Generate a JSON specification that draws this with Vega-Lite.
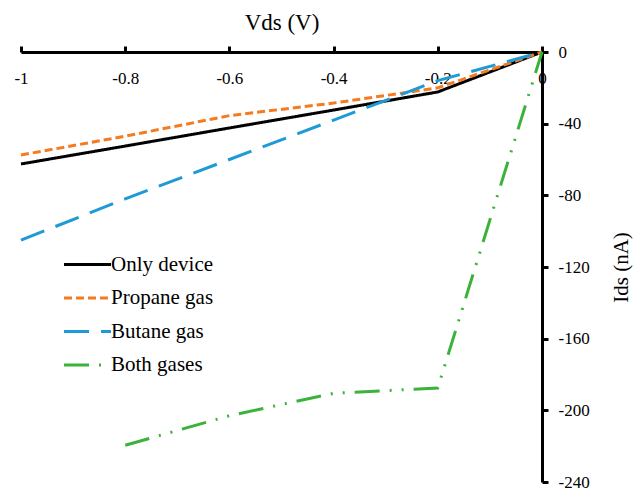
{
  "$schema": "https://vega.github.io/schema/vega-lite/v6.json",
  "autosize": {"type": "none"},
  "padding": {"left": 21, "top": 52, "right": 96, "bottom": 10},
  "width": 521,
  "height": 430,
  "background": "white",
  "config": {
    "font": "Liberation Serif",
    "view": {"stroke": null}
  },
  "data": {
    "values": [
      {"series": "Only device", "vds": -1, "ids": -62.5},
      {"series": "Only device", "vds": -0.8, "ids": -52.5},
      {"series": "Only device", "vds": -0.6, "ids": -42.4},
      {"series": "Only device", "vds": -0.4, "ids": -32.4},
      {"series": "Only device", "vds": -0.2, "ids": -22.3},
      {"series": "Only device", "vds": 0, "ids": 0},
      {"series": "Propane gas", "vds": -1, "ids": -57.5},
      {"series": "Propane gas", "vds": -0.8, "ids": -47},
      {"series": "Propane gas", "vds": -0.6, "ids": -35.5},
      {"series": "Propane gas", "vds": -0.4, "ids": -28.5},
      {"series": "Propane gas", "vds": -0.2, "ids": -20},
      {"series": "Propane gas", "vds": 0, "ids": 0},
      {"series": "Butane gas", "vds": -1, "ids": -105},
      {"series": "Butane gas", "vds": -0.8, "ids": -82},
      {"series": "Butane gas", "vds": -0.6, "ids": -60},
      {"series": "Butane gas", "vds": -0.4, "ids": -38},
      {"series": "Butane gas", "vds": -0.2, "ids": -16},
      {"series": "Butane gas", "vds": 0, "ids": 0},
      {"series": "Both gases", "vds": -0.8, "ids": -219.5},
      {"series": "Both gases", "vds": -0.6, "ids": -203},
      {"series": "Both gases", "vds": -0.4, "ids": -190.5},
      {"series": "Both gases", "vds": -0.2, "ids": -187.5},
      {"series": "Both gases", "vds": 0, "ids": 0}
    ]
  },
  "mark": {"type": "line", "strokeWidth": 3, "clip": false},
  "encoding": {
    "x": {
      "field": "vds",
      "type": "quantitative",
      "scale": {"domain": [-1, 0], "nice": false, "zero": false},
      "axis": {
        "orient": "top",
        "title": "Vds (V)",
        "titleFont": "Liberation Serif",
        "titleFontSize": 23,
        "titleFontWeight": "normal",
        "titleColor": "black",
        "titlePadding": 10,
        "values": [-1, -0.8, -0.6, -0.4, -0.2, 0],
        "labelExpr": "toString(datum.value)",
        "grid": false,
        "domainColor": "black",
        "domainWidth": 3,
        "tickColor": "black",
        "tickWidth": 3,
        "tickSize": 6,
        "labelFont": "Liberation Serif",
        "labelFontSize": 17,
        "labelColor": "black",
        "labelBaseline": "top",
        "labelPadding": -24,
        "labelFlush": false,
        "labelOverlap": false,
        "encode": {"ticks": {"update": {"y": {"value": 6}}}}
      }
    },
    "y": {
      "field": "ids",
      "type": "quantitative",
      "scale": {"domain": [-240, 0], "nice": false, "zero": false},
      "axis": {
        "orient": "right",
        "title": "Ids (nA)",
        "titleFont": "Liberation Serif",
        "titleFontSize": 21,
        "titleFontWeight": "normal",
        "titleColor": "black",
        "titleAngle": 270,
        "titlePadding": 42,
        "values": [-240, -200, -160, -120, -80, -40, 0],
        "labelExpr": "toString(datum.value)",
        "grid": false,
        "domainColor": "black",
        "domainWidth": 3,
        "tickColor": "black",
        "tickWidth": 3,
        "tickSize": 6,
        "labelFont": "Liberation Serif",
        "labelFontSize": 17,
        "labelColor": "black",
        "labelPadding": 10,
        "labelFlush": false,
        "labelOverlap": false,
        "encode": {"ticks": {"update": {"x": {"value": -6}}}}
      }
    },
    "color": {
      "field": "series",
      "type": "nominal",
      "scale": {
        "domain": ["Only device", "Propane gas", "Butane gas", "Both gases"],
        "range": ["#000000", "#F47B20", "#1E9AD6", "#3BB33B"]
      },
      "legend": {
        "orient": "none",
        "legendX": 53,
        "legendY": 199,
        "title": null,
        "padding": 0,
        "symbolType": "M-2,0H2",
        "symbolSize": 552,
        "symbolStrokeWidth": 3,
        "labelFont": "Liberation Serif",
        "labelFontSize": 21,
        "labelColor": "black",
        "labelOffset": 10,
        "rowPadding": 9.5
      }
    },
    "strokeDash": {
      "field": "series",
      "type": "nominal",
      "scale": {
        "domain": ["Only device", "Propane gas", "Butane gas", "Both gases"],
        "range": [[1, 0], [8, 4], [25, 12], [25, 10, 2, 10, 2, 10]]
      },
      "legend": null
    }
  }
}
